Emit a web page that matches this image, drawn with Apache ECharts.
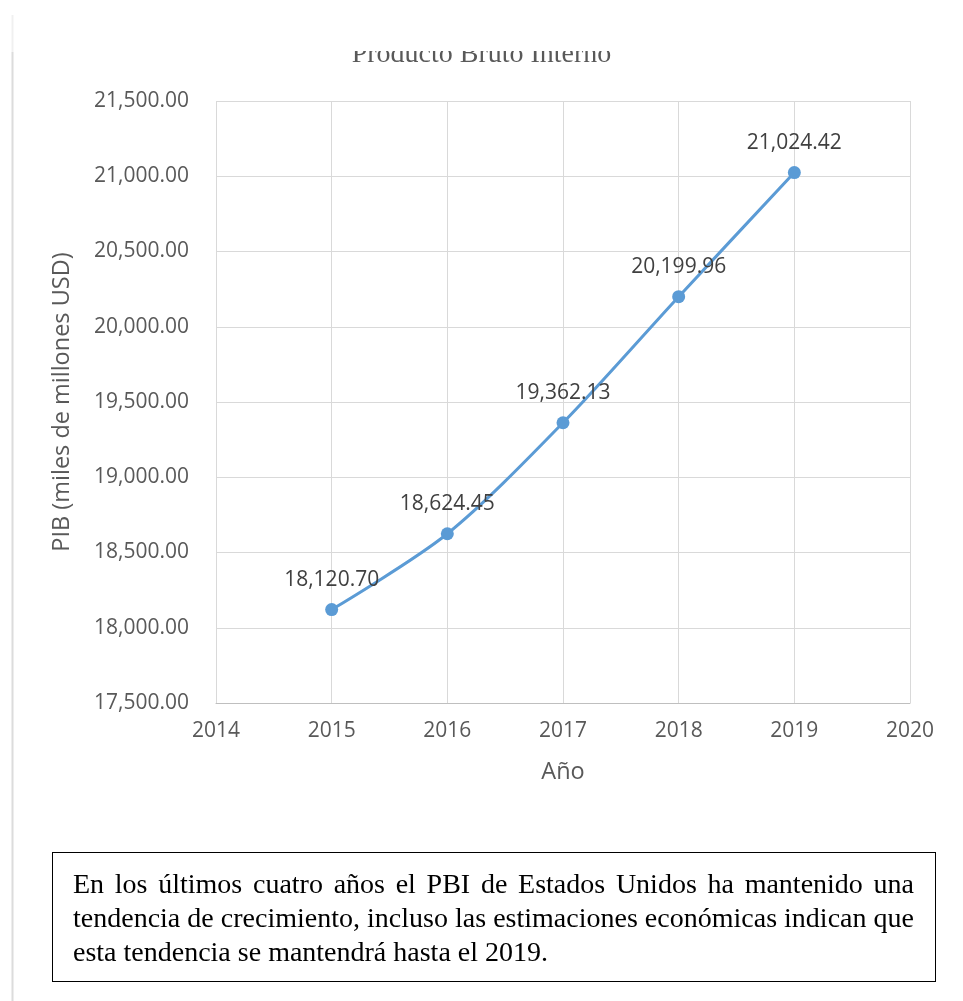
<!DOCTYPE html>
<html>
<head>
<meta charset="utf-8">
<script src="https://cdn.jsdelivr.net/npm/echarts@6/dist/echarts.min.js"></script>
<style>
  html, body { margin: 0; padding: 0; background: #fff; }
  #chart { position: absolute; left: 0; top: 0; width: 963px; height: 1001px; }
  #note {
    position: absolute; left: 52px; top: 852px; width: 884px; height: 130px;
    border: 1px solid #000; box-sizing: border-box;
    padding: 14px 21px 0 20px;
    font-family: "Liberation Serif", "Times New Roman", serif;
    font-size: 28px; line-height: 34px; color: #000;
  }
  #note .j { text-align: justify; text-align-last: justify; white-space: nowrap; }
</style>
</head>
<body>
<div id="chart"></div>
<div id="note">
  <div class="j">En los últimos cuatro años el PBI de Estados Unidos ha mantenido una</div>
  <div class="j">tendencia de crecimiento, incluso las estimaciones económicas indican que</div>
  <div>esta tendencia se mantendrá hasta el 2019.</div>
</div>
<script>
// Producto Bruto Interno, 2015-2019
const years = [2015, 2016, 2017, 2018, 2019];
const pib = [18120.70, 18624.45, 19362.13, 20199.96, 21024.42];
const yearTicks = [2014, 2015, 2016, 2017, 2018, 2019, 2020];
const pibTicks = [17500, 18000, 18500, 19000, 19500, 20000, 20500, 21000, 21500];

const fmt = v => v.toLocaleString('en-US', { minimumFractionDigits: 2, maximumFractionDigits: 2 });
const sans = '"Open Sans", sans-serif';
const blue = '#5B9BD5';

const chart = echarts.init(document.getElementById('chart'), null, { renderer: 'canvas' });
chart.setOption({
  animation: false,
  backgroundColor: '#fff',
  grid: { left: 216, right: 53, top: 101, bottom: 298 },
  xAxis: {
    type: 'value',
    min: yearTicks[0], max: yearTicks[yearTicks.length - 1], interval: 1,
    name: 'Año', nameLocation: 'middle', nameGap: 57,
    nameTextStyle: { fontFamily: sans, fontSize: 23.5, color: '#595959' },
    axisLine: { lineStyle: { color: '#bfbfbf', width: 1 } },
    axisTick: { show: false },
    axisLabel: { formatter: v => String(v), fontFamily: sans, fontSize: 21, color: '#595959', margin: 18 },
    splitLine: { show: true, lineStyle: { color: '#d9d9d9', width: 1 } }
  },
  yAxis: {
    type: 'value',
    min: pibTicks[0], max: pibTicks[pibTicks.length - 1], interval: 500,
    name: 'PIB (miles de millones USD)', nameLocation: 'middle', nameGap: 142,
    nameTextStyle: { fontFamily: sans, fontSize: 23.5, color: '#595959' },
    axisLine: { show: false },
    axisTick: { show: false },
    axisLabel: { formatter: v => fmt(v), fontFamily: sans, fontSize: 21, color: '#595959', margin: 27 },
    splitLine: { show: true, lineStyle: { color: '#d9d9d9', width: 1 } }
  },
  series: [{
    type: 'line',
    data: years.map((y, i) => [y, pib[i]]),
    smooth: 0.3,
    symbol: 'circle', symbolSize: 13,
    lineStyle: { color: blue, width: 3 },
    itemStyle: { color: blue },
    label: {
      show: true, position: 'top', distance: 13,
      formatter: p => fmt(p.value[1]),
      fontFamily: sans, fontSize: 21, color: '#404040'
    }
  }],
  graphic: [
    { type: 'text', left: 'center', top: 41, z: 1,
      style: { text: 'Producto Bruto Interno', font: '28px "Liberation Serif", serif', fill: '#595959' } },
    { type: 'rect', shape: { x: 20, y: 0, width: 943, height: 51 }, style: { fill: '#fff' }, z: 5 },
    { type: 'line', shape: { x1: 12.5, y1: 15, x2: 12.5, y2: 52 }, style: { stroke: '#f0f0f0', lineWidth: 2 }, z: 6 },
    { type: 'line', shape: { x1: 12.5, y1: 52, x2: 12.5, y2: 1001 }, style: { stroke: '#dcdcdc', lineWidth: 2 }, z: 6 }
  ]
});
</script>
</body>
</html>
